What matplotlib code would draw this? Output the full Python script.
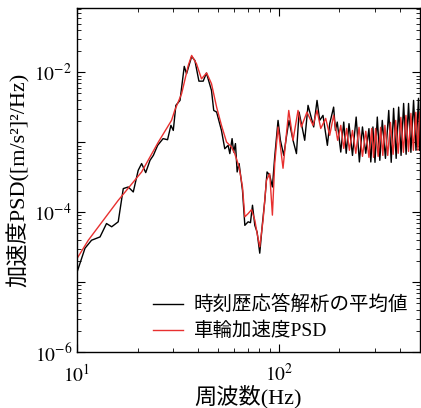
import numpy as np
import matplotlib
matplotlib.use("Agg")
import matplotlib.pyplot as plt
from matplotlib.ticker import LogLocator, FuncFormatter, NullFormatter

plt.rcParams['font.family'] = ['Liberation Serif', 'Noto Sans CJK JP']
plt.rcParams['mathtext.fontset'] = 'stix'

# time-history response analysis (average)
black_f = [10.0, 10.95, 11.8, 13.0, 14.0, 14.85, 16.0, 16.95, 17.95, 19.0,
           20.1, 20.9, 21.9, 23.0, 23.9, 25.1, 26.7, 28.1, 29.2, 30.0,
           30.9, 32.4, 34.0, 34.9, 37.0, 38.4, 40.2, 42.2, 43.8, 46.4,
           47.6, 49.2, 52.0, 54.0, 56.1, 57.2, 58.7, 59.8, 61.0, 62.2,
           63.6, 66.1, 67.9, 70.5, 72.4, 74.1, 76.1, 78.1, 80.5, 83.0,
           85.3, 87.5, 90.2, 93.0, 95.5, 99.2, 101.9, 105.9, 109.1, 112.4,
           117.7, 122.4, 126.1, 131.0, 134.5, 139.7, 144.0, 149.0, 154.8, 159.6,
           165.7, 174.2, 178.9, 187.1, 191.0,
           195, 203, 210, 216, 223, 232, 242, 251, 260, 270,
           280, 286, 293, 300, 308, 317, 326, 338, 351, 361,
           371, 382, 393, 404, 416, 428, 440, 452, 466, 479,
           493, 500]
black_psd = [1.39e-5, 3.06e-5, 3.98e-5, 4.44e-5, 6.9e-5, 6.2e-5, 7.3e-5, 2.18e-4, 2.3e-4, 1.95e-4,
             3.98e-4, 4.97e-4, 3.69e-4, 5.53e-4, 6.52e-4, 9.06e-4, 1.13e-3, 1.09e-3, 1.75e-3, 1.48e-3,
             3.38e-3, 3.98e-3, 1.22e-2, 9.57e-3, 1.69e-2, 1.48e-2, 7.5e-3, 7.5e-3, 9.8e-3, 5.53e-3,
             2.86e-3, 2.71e-3, 1.48e-3, 8.1e-4, 9.06e-4, 6.9e-4, 1.13e-3, 7.26e-4, 9.6e-4, 3.77e-4,
             4.97e-4, 2.06e-4, 6.5e-5, 7.3e-5, 7.1e-5, 1.26e-4, 6.5e-5, 5.2e-5, 2.6e-5, 6.9e-5,
             1.48e-4, 3.77e-4, 3.38e-4, 2.3e-4, 6.2e-4, 2.06e-3, 1.07e-3, 6.5e-4, 1.19e-3, 2.06e-3,
             1.07e-3, 6.9e-4, 2.71e-3, 1.57e-3, 1.07e-3, 3.38e-3, 2.43e-3, 1.66e-3, 3.98e-3, 2.06e-3,
             2.43e-3, 9.06e-4, 1.85e-3, 3.19e-3, 1.48e-3,
             1.95e-3, 7.26e-4, 1.95e-3, 6.97e-4, 1.85e-3, 6.5e-4, 2.3e-3, 5.24e-4, 1.66e-3, 6.97e-4,
             1.57e-3, 5.24e-4, 1.66e-3, 5.18e-4, 2.3e-3, 5.53e-4, 2.06e-3, 5.9e-4, 2.86e-3, 5.18e-4,
             3.06e-3, 5.9e-4, 3.19e-3, 6.5e-4, 3.6e-3, 6.75e-4, 3.6e-3, 7.2e-4, 3.98e-3, 7.7e-4,
             4.26e-3, 7.7e-4]

# wheel acceleration PSD
red_f = [10.0, 11.37, 16.0, 20.9, 25.3, 29.4, 30.5, 33.0, 35.6, 37.0,
         39.1, 41.4, 43.9, 46.4, 49.2, 52.0, 55.1, 58.3, 60.5, 63.6,
         66.1, 67.9, 70.5, 73.3, 76.1, 78.1, 80.5, 83.6, 86.9, 90.2,
         93.0, 95.5, 99.2, 105.0, 112.1, 117.7, 124.6, 129.4, 138.0, 147.9,
         154.8, 161.5, 170.9, 178.9, 187.1, 195.9,
         203, 210, 217, 224, 232, 241, 250, 260, 270, 280,
         289, 295, 302, 311, 320, 328, 336, 347, 358, 369,
         380, 391, 403, 415, 427, 440, 452, 465, 478, 490, 500]
red_psd = [2.18e-5, 3.98e-5, 1.48e-4, 3.77e-4, 1.01e-3, 2.06e-3, 2.86e-3, 4.97e-3, 1.26e-2, 1.75e-2,
           1.33e-2, 8.1e-3, 9.84e-3, 6.9e-3, 3.19e-3, 1.75e-3, 1.01e-3, 8.6e-4, 6.9e-4, 4.44e-4,
           2.3e-4, 8.6e-5, 9.57e-5, 1.09e-4, 7.7e-5, 5.0e-5, 3.2e-5, 7.7e-5, 2.86e-4, 3.57e-4,
           9.1e-5, 4.97e-4, 1.66e-3, 4.26e-4, 2.86e-3, 1.07e-3, 2.86e-3, 1.66e-3, 2.71e-3, 1.75e-3,
           2.86e-3, 1.58e-3, 2.2e-3, 1.26e-3, 2.43e-3, 1.07e-3,
           1.75e-3, 8.2e-4, 1.58e-3, 7.7e-4, 1.48e-3, 6.97e-4, 1.64e-3, 6.3e-4, 1.44e-3, 6.1e-4,
           1.58e-3, 6.1e-4, 1.58e-3, 6.3e-4, 1.64e-3, 6.5e-4, 1.75e-3, 6.5e-4, 1.93e-3, 6.75e-4,
           2.06e-3, 6.97e-4, 2.28e-3, 7.2e-4, 2.43e-3, 7.4e-4, 2.6e-3, 7.7e-4, 2.69e-3, 7.7e-4, 2.69e-3]

labels = ['時刻歴応答解析の平均値', '車輪加速度PSD']

fig = plt.figure(figsize=(4.21, 4.08), dpi=100)
ax = fig.add_axes([0.183, 0.137, 0.814, 0.843])

ax.loglog(black_f, black_psd, color='black', lw=1.0, label=labels[0])
ax.loglog(red_f, red_psd, color='#e8302f', lw=1.0, label=labels[1])

ax.set_xlim(10, 500)
ax.set_ylim(1e-6, 8.3e-2)

ax.yaxis.set_major_locator(LogLocator(base=10, numticks=20))
ax.yaxis.set_minor_locator(LogLocator(base=10, subs=np.arange(2, 10), numticks=20))
ax.yaxis.set_major_formatter(FuncFormatter(
    lambda v, _: '$10^{%d}$' % round(np.log10(v)) if round(np.log10(v)) % 2 == 0 else ''))
ax.yaxis.set_minor_formatter(NullFormatter())
ax.xaxis.set_major_formatter(FuncFormatter(lambda v, _: '$10^{%d}$' % round(np.log10(v))))
ax.xaxis.set_minor_formatter(NullFormatter())

ax.tick_params(which='both', direction='in', top=True, right=True, labelsize=14)
ax.tick_params(axis='x', which='major', pad=8)
ax.tick_params(which='major', length=6, width=0.8)
ax.tick_params(which='minor', length=3, width=0.6)
for s in ax.spines.values():
    s.set_linewidth(1.0)

ax.set_xlabel('周波数(Hz)', fontsize=16, labelpad=0)
ax.set_ylabel('加速度PSD([m/s²]²/Hz)', fontsize=16, labelpad=3)

ax.legend(loc='lower right', frameon=False, fontsize=14, handlelength=1.55,
          handletextpad=0.55, borderaxespad=0.2, labelspacing=0.35)

fig.savefig('out.png', dpi=100)
